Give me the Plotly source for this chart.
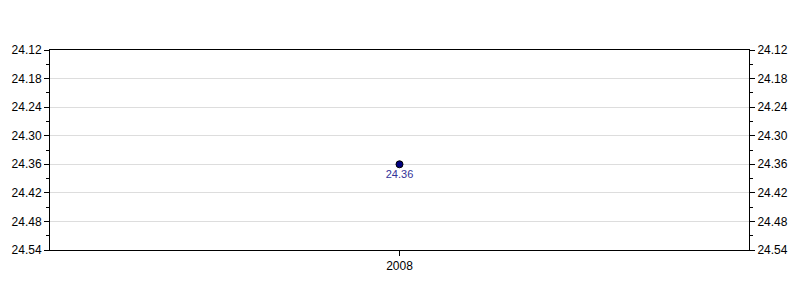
import plotly.graph_objects as go

categories = ["2008"]
values = [24.36]
labels = ["24.36"]
y_ticks = [24.12, 24.18, 24.24, 24.30, 24.36, 24.42, 24.48, 24.54]

fig = go.Figure()
fig.add_trace(go.Scatter(
    x=categories, y=values, mode="markers+text",
    text=labels, textposition="bottom center",
    textfont=dict(family="Liberation Sans, Arial", size=11, color="#333399"),
    marker=dict(size=7, color="#000080", line=dict(color="#000000", width=1)),
    showlegend=False, cliponaxis=False,
))
fig.add_trace(go.Scatter(x=categories, y=values, yaxis="y2", mode="markers",
                         marker=dict(opacity=0), showlegend=False, hoverinfo="skip"))

yfmt = dict(
    range=[24.54, 24.12], tickvals=y_ticks, ticktext=[f"{v:.2f}" for v in y_ticks],
    ticks="outside", ticklen=5, tickcolor="#000", linecolor="#000", showline=True,
    tickfont=dict(family="Liberation Sans, Arial", size=12, color="#000"),
    zeroline=False,
    minor=dict(tickvals=[round(24.15 + 0.06 * i, 2) for i in range(7)], ticklen=3,
               tickcolor="#000", ticks="outside", showgrid=False),
)

fig.update_layout(
    width=800, height=300,
    margin=dict(l=50, r=49, t=50, b=50),
    paper_bgcolor="white", plot_bgcolor="white",
    xaxis=dict(type="category", showline=True, linecolor="#000", mirror=True,
               ticks="outside", ticklen=5, tickcolor="#000", showgrid=False,
               tickfont=dict(family="Liberation Sans, Arial", size=12, color="#000")),
    yaxis=dict(**yfmt, side="left", showgrid=True, gridcolor="#dddddd"),
    yaxis2=dict(**yfmt, side="right", overlaying="y", showgrid=False),
)
fig.write_html("out.html")
